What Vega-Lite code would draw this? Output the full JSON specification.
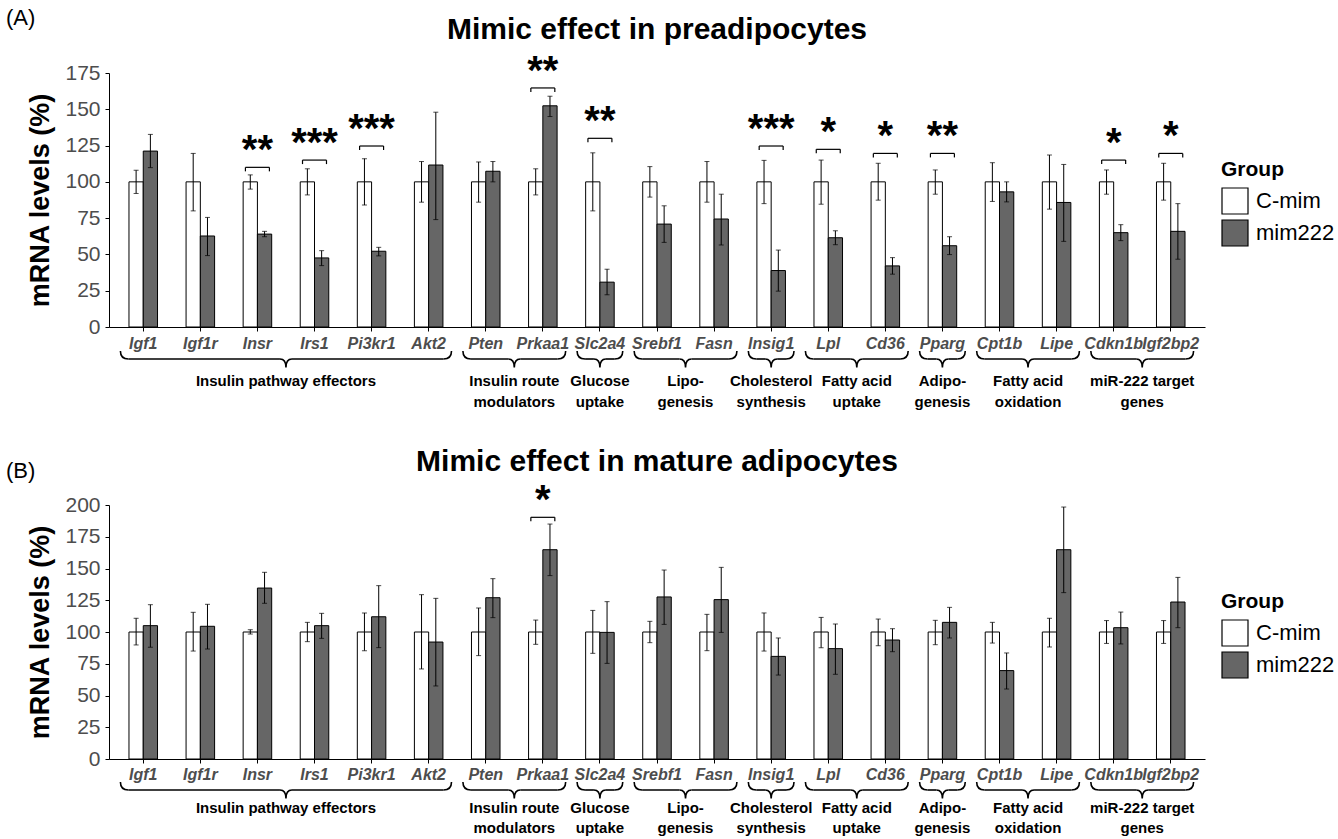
{
"$schema": "https://vega.github.io/schema/vega-lite/v6.json",
"background": "white",
"padding": {"left": 5, "top": 6, "right": 0, "bottom": 0},
"config": {"view": {"stroke": null}, "font": "Liberation Sans", "axis": {"labelFont": "Liberation Sans", "titleFont": "Liberation Sans", "grid": false}, "legend": {"labelFont": "Liberation Sans", "titleFont": "Liberation Sans"}, "title": {"font": "Liberation Sans", "color": "black"}},
"datasets": {
"barsA": [
{"gene":"Igf1","group":"C-mim","value":100,"lo":92,"hi":108},{"gene":"Igf1","group":"mim222","value":121.2,"lo":109.8,"hi":132.7},
{"gene":"Igf1r","group":"C-mim","value":100,"lo":80,"hi":119.6},{"gene":"Igf1r","group":"mim222","value":62.7,"lo":49.2,"hi":75.5},
{"gene":"Insr","group":"C-mim","value":100,"lo":95,"hi":104.8},{"gene":"Insr","group":"mim222","value":64,"lo":62.2,"hi":65.9},
{"gene":"Irs1","group":"C-mim","value":100,"lo":91,"hi":109},{"gene":"Irs1","group":"mim222","value":47.6,"lo":42.3,"hi":52.6},
{"gene":"Pi3kr1","group":"C-mim","value":100,"lo":84,"hi":116},{"gene":"Pi3kr1","group":"mim222","value":52.2,"lo":49,"hi":54.9},
{"gene":"Akt2","group":"C-mim","value":100,"lo":86,"hi":114},{"gene":"Akt2","group":"mim222","value":111.6,"lo":74,"hi":148},
{"gene":"Pten","group":"C-mim","value":100,"lo":86,"hi":113.7},{"gene":"Pten","group":"mim222","value":107.3,"lo":100,"hi":114},
{"gene":"Prkaa1","group":"C-mim","value":100,"lo":91,"hi":109},{"gene":"Prkaa1","group":"mim222","value":152.4,"lo":145,"hi":159},
{"gene":"Slc2a4","group":"C-mim","value":100,"lo":80,"hi":120},{"gene":"Slc2a4","group":"mim222","value":30.9,"lo":22.2,"hi":39.8},
{"gene":"Srebf1","group":"C-mim","value":100,"lo":89.5,"hi":110.5},{"gene":"Srebf1","group":"mim222","value":70.9,"lo":58.3,"hi":83.5},
{"gene":"Fasn","group":"C-mim","value":100,"lo":86,"hi":114},{"gene":"Fasn","group":"mim222","value":74.4,"lo":56.5,"hi":91.5},
{"gene":"Insig1","group":"C-mim","value":100,"lo":85,"hi":114.8},{"gene":"Insig1","group":"mim222","value":38.9,"lo":24.7,"hi":53},
{"gene":"Lpl","group":"C-mim","value":100,"lo":84.6,"hi":115},{"gene":"Lpl","group":"mim222","value":61.5,"lo":56.7,"hi":66.3},
{"gene":"Cd36","group":"C-mim","value":100,"lo":87.4,"hi":112.8},{"gene":"Cd36","group":"mim222","value":42.1,"lo":36.4,"hi":47.8},
{"gene":"Pparg","group":"C-mim","value":100,"lo":91.5,"hi":108.2},{"gene":"Pparg","group":"mim222","value":56,"lo":49.9,"hi":62.2},
{"gene":"Cpt1b","group":"C-mim","value":100,"lo":86.5,"hi":113.2},{"gene":"Cpt1b","group":"mim222","value":93.1,"lo":86.2,"hi":100},
{"gene":"Lipe","group":"C-mim","value":100,"lo":81.2,"hi":118.5},{"gene":"Lipe","group":"mim222","value":85.8,"lo":59,"hi":112},
{"gene":"Cdkn1b","group":"C-mim","value":100,"lo":91.5,"hi":108.2},{"gene":"Cdkn1b","group":"mim222","value":65,"lo":59.5,"hi":70.5},
{"gene":"Igf2bp2","group":"C-mim","value":100,"lo":87.4,"hi":112.8},{"gene":"Igf2bp2","group":"mim222","value":65.9,"lo":46.7,"hi":85}
],
"barsB": [
{"gene":"Igf1","group":"C-mim","value":100,"lo":89.8,"hi":110.8},{"gene":"Igf1","group":"mim222","value":105,"lo":88,"hi":121.5},
{"gene":"Igf1r","group":"C-mim","value":100,"lo":85,"hi":115.5},{"gene":"Igf1r","group":"mim222","value":104.5,"lo":86.6,"hi":121.8},
{"gene":"Insr","group":"C-mim","value":100,"lo":98.4,"hi":101.8},{"gene":"Insr","group":"mim222","value":134.6,"lo":122.6,"hi":147},
{"gene":"Irs1","group":"C-mim","value":100,"lo":92.4,"hi":107.6},{"gene":"Irs1","group":"mim222","value":105,"lo":95,"hi":114.7},
{"gene":"Pi3kr1","group":"C-mim","value":100,"lo":85.3,"hi":115},{"gene":"Pi3kr1","group":"mim222","value":112,"lo":87.7,"hi":136.5},
{"gene":"Akt2","group":"C-mim","value":100,"lo":70.9,"hi":129.4},{"gene":"Akt2","group":"mim222","value":92.1,"lo":57.5,"hi":126.5},
{"gene":"Pten","group":"C-mim","value":100,"lo":81.4,"hi":118.9},{"gene":"Pten","group":"mim222","value":127,"lo":111.3,"hi":142},
{"gene":"Prkaa1","group":"C-mim","value":100,"lo":90.3,"hi":109.4},{"gene":"Prkaa1","group":"mim222","value":164.8,"lo":144.4,"hi":185},
{"gene":"Slc2a4","group":"C-mim","value":100,"lo":83.2,"hi":117},{"gene":"Slc2a4","group":"mim222","value":99.7,"lo":75.3,"hi":123.9},
{"gene":"Srebf1","group":"C-mim","value":100,"lo":91.6,"hi":108.4},{"gene":"Srebf1","group":"mim222","value":127.6,"lo":106,"hi":148.8},
{"gene":"Fasn","group":"C-mim","value":100,"lo":85.3,"hi":113.9},{"gene":"Fasn","group":"mim222","value":125.5,"lo":99.7,"hi":150.9},
{"gene":"Insig1","group":"C-mim","value":100,"lo":85,"hi":115},{"gene":"Insig1","group":"mim222","value":80.8,"lo":66.1,"hi":95.3},
{"gene":"Lpl","group":"C-mim","value":100,"lo":87.6,"hi":111.5},{"gene":"Lpl","group":"mim222","value":86.9,"lo":66.7,"hi":106.3},
{"gene":"Cd36","group":"C-mim","value":100,"lo":89.2,"hi":110.2},{"gene":"Cd36","group":"mim222","value":93.7,"lo":84.5,"hi":102.6},
{"gene":"Pparg","group":"C-mim","value":100,"lo":90,"hi":109.2},{"gene":"Pparg","group":"mim222","value":107.6,"lo":95.3,"hi":119.4},
{"gene":"Cpt1b","group":"C-mim","value":100,"lo":91.3,"hi":107.6},{"gene":"Cpt1b","group":"mim222","value":69.6,"lo":55.1,"hi":83.5},
{"gene":"Lipe","group":"C-mim","value":100,"lo":88.2,"hi":110.8},{"gene":"Lipe","group":"mim222","value":164.8,"lo":131,"hi":198.4},
{"gene":"Cdkn1b","group":"C-mim","value":100,"lo":91,"hi":109},{"gene":"Cdkn1b","group":"mim222","value":103.4,"lo":90.6,"hi":115.7},
{"gene":"Igf2bp2","group":"C-mim","value":100,"lo":91,"hi":109},{"gene":"Igf2bp2","group":"mim222","value":123.6,"lo":103.4,"hi":143}
],
"sigA": [
{"gene":"Insr","bracket":110,"stars":"**"},{"gene":"Irs1","bracket":115,"stars":"***"},{"gene":"Pi3kr1","bracket":124.7,"stars":"***"},
{"gene":"Prkaa1","bracket":164.7,"stars":"**"},{"gene":"Slc2a4","bracket":130,"stars":"**"},{"gene":"Insig1","bracket":124.7,"stars":"***"},
{"gene":"Lpl","bracket":122.4,"stars":"*"},{"gene":"Cd36","bracket":119.6,"stars":"*"},{"gene":"Pparg","bracket":119.6,"stars":"**"},
{"gene":"Cdkn1b","bracket":115,"stars":"*"},{"gene":"Igf2bp2","bracket":119.6,"stars":"*"}
],
"sigB": [
{"gene":"Prkaa1","bracket":190.3,"stars":"*"}
],
"groups": [
{"label":"Insulin pathway effectors","first":"Igf1","last":"Akt2","anchor":"Insr","even":true},
{"label":"Insulin route\nmodulators","first":"Pten","last":"Prkaa1","anchor":"Pten","even":true},
{"label":"Glucose\nuptake","first":"Slc2a4","last":"Slc2a4","anchor":"Slc2a4","even":false},
{"label":"Lipo-\ngenesis","first":"Srebf1","last":"Fasn","anchor":"Srebf1","even":true},
{"label":"Cholesterol\nsynthesis","first":"Insig1","last":"Insig1","anchor":"Insig1","even":false},
{"label":"Fatty acid\nuptake","first":"Lpl","last":"Cd36","anchor":"Lpl","even":true},
{"label":"Adipo-\ngenesis","first":"Pparg","last":"Pparg","anchor":"Pparg","even":false},
{"label":"Fatty acid\noxidation","first":"Cpt1b","last":"Lipe","anchor":"Cpt1b","even":true},
{"label":"miR-222 target\ngenes","first":"Cdkn1b","last":"Igf2bp2","anchor":"Cdkn1b","even":true}
]
},
"spacing": 37,
"resolve": {"scale": {"x": "independent", "y": "independent", "fill": "independent"}},
"vconcat": [
{
"title": {"text": "(A)", "anchor": "start", "frame": "bounds", "fontSize": 22, "fontWeight": "normal", "offset": -15, "dx": -21},
"resolve": {"scale": {"fill": "independent"}, "legend": {"fill": "independent"}},
"vconcat": [{
"width": 1096, "height": 254,
"title": {"text": "Mimic effect in preadipocytes", "fontSize": 30, "fontWeight": "bold", "anchor": "middle", "frame": "group", "offset": 7},
"layer": [
{"data": {"name": "barsA"}, "mark": {"type": "bar", "stroke": "black", "strokeWidth": 1},
 "encoding": {
  "x": {"field": "gene", "type": "nominal", "title": null, "scale": {"domain": ["Igf1","Igf1r","Insr","Irs1","Pi3kr1","Akt2","Pten","Prkaa1","Slc2a4","Srebf1","Fasn","Insig1","Lpl","Cd36","Pparg","Cpt1b","Lipe","Cdkn1b","Igf2bp2"], "paddingInner": 0.5, "paddingOuter": 0.35},
        "axis": {"labelFontSize": 16, "labelFontStyle": "italic", "labelFontWeight": "bold", "labelColor": "#4d4d4d", "labelAngle": 0, "labelOverlap": false, "tickSize": 4, "tickColor": "black", "domainColor": "black", "labelPadding": 4, "title": null}},
  "xOffset": {"field": "group", "type": "nominal", "scale": {"paddingInner": 0, "paddingOuter": 0}},
  "y": {"field": "value", "type": "quantitative", "title": "mRNA levels (%)", "scale": {"domain": [0, 175], "nice": false},
        "axis": {"values": [0,25,50,75,100,125,150,175], "tickCount": 20, "labelOverlap": false, "labelFontSize": 21, "labelColor": "#4d4d4d", "tickColor": "black", "domainColor": "black", "tickSize": 4, "labelPadding": 5, "titleFontSize": 27, "titleFontWeight": "bold", "titleColor": "black", "titlePadding": 10}},
  "fill": {"field": "group", "type": "nominal", "scale": {"domain": ["C-mim","mim222"], "range": ["#ffffff","#666666"]},
        "legend": {"title": "Group", "orient": "none", "legendX": 1112, "legendY": 86, "symbolType": "square", "symbolSize": 676, "symbolStrokeColor": "black", "symbolStrokeWidth": 1.2, "labelFontSize": 22, "labelColor": "black", "titleFontSize": 21, "titleFontWeight": "bold", "titleColor": "black", "rowPadding": 0, "titlePadding": 7, "labelOffset": 7}}
 }},
{"data": {"name": "barsA"}, "mark": {"type": "rule", "color": "black", "strokeWidth": 1},
 "encoding": {"x": {"field": "gene", "type": "nominal"}, "xOffset": {"field": "group", "type": "nominal"}, "y": {"field": "lo", "type": "quantitative"}, "y2": {"field": "hi"}}},
{"data": {"name": "barsA"}, "mark": {"type": "tick", "orient": "horizontal", "color": "black", "size": 5, "thickness": 1},
 "encoding": {"x": {"field": "gene", "type": "nominal"}, "xOffset": {"field": "group", "type": "nominal"}, "y": {"field": "lo", "type": "quantitative"}}},
{"data": {"name": "barsA"}, "mark": {"type": "tick", "orient": "horizontal", "color": "black", "size": 5, "thickness": 1},
 "encoding": {"x": {"field": "gene", "type": "nominal"}, "xOffset": {"field": "group", "type": "nominal"}, "y": {"field": "hi", "type": "quantitative"}}},
{"data": {"name": "sigA"}, "mark": {"type": "rule", "color": "black", "strokeWidth": 1.2},
 "encoding": {"x": {"field": "gene", "type": "nominal", "bandPosition": 0.08}, "x2": {"field": "gene", "bandPosition": 0.92}, "y": {"field": "bracket", "type": "quantitative"}}},
{"data": {"name": "sigA"}, "mark": {"type": "rule", "color": "black", "strokeWidth": 1.2, "y2Offset": 4},
 "encoding": {"x": {"field": "gene", "type": "nominal", "bandPosition": 0.08}, "y": {"field": "bracket", "type": "quantitative"}, "y2": {"field": "bracket"}}},
{"data": {"name": "sigA"}, "mark": {"type": "rule", "color": "black", "strokeWidth": 1.2, "y2Offset": 4},
 "encoding": {"x": {"field": "gene", "type": "nominal", "bandPosition": 0.92}, "y": {"field": "bracket", "type": "quantitative"}, "y2": {"field": "bracket"}}},
{"data": {"name": "sigA"}, "mark": {"type": "text", "fontSize": 40, "fontWeight": "bold", "baseline": "alphabetic", "dy": -4, "color": "black"},
 "encoding": {"x": {"field": "gene", "type": "nominal"}, "y": {"field": "bracket", "type": "quantitative"}, "text": {"field": "stars"}}},
{"data": {"name": "groups"}, "mark": {"type": "point", "shape": "M1,1Q-1,1,-1,-1", "size": 64, "filled": false, "stroke": "black", "strokeWidth": 1.6, "opacity": 1, "xOffset": 4, "yOffset": 28},
 "encoding": {"x": {"field": "first", "type": "nominal", "bandPosition": -0.3}, "y": {"datum": 0}}},
{"data": {"name": "groups"}, "mark": {"type": "point", "shape": "M-1,1Q1,1,1,-1", "size": 64, "filled": false, "stroke": "black", "strokeWidth": 1.6, "opacity": 1, "xOffset": -4, "yOffset": 28},
 "encoding": {"x": {"field": "last", "type": "nominal", "bandPosition": 1.3}, "y": {"datum": 0}}},
{"data": {"name": "groups"}, "transform": [{"filter": "datum.even"}], "mark": {"type": "point", "shape": "M-1,-0.7Q0,-0.7,0,0.7Q0,-0.7,1,-0.7", "size": 144, "filled": false, "stroke": "black", "strokeWidth": 1.6, "opacity": 1, "yOffset": 36.2},
 "encoding": {"x": {"field": "anchor", "type": "nominal", "bandPosition": 1.5}, "y": {"datum": 0}}},
{"data": {"name": "groups"}, "transform": [{"filter": "!datum.even"}], "mark": {"type": "point", "shape": "M-1,-0.7Q0,-0.7,0,0.7Q0,-0.7,1,-0.7", "size": 144, "filled": false, "stroke": "black", "strokeWidth": 1.6, "opacity": 1, "yOffset": 36.2},
 "encoding": {"x": {"field": "anchor", "type": "nominal", "bandPosition": 0.5}, "y": {"datum": 0}}},
{"data": {"name": "groups"}, "transform": [{"filter": "datum.even"}], "mark": {"type": "rule", "color": "black", "strokeWidth": 1.6, "xOffset": 8, "x2Offset": -6, "yOffset": 32},
 "encoding": {"x": {"field": "first", "type": "nominal", "bandPosition": -0.3}, "x2": {"field": "anchor", "bandPosition": 1.5}, "y": {"datum": 0}}},
{"data": {"name": "groups"}, "transform": [{"filter": "datum.even"}], "mark": {"type": "rule", "color": "black", "strokeWidth": 1.6, "xOffset": 6, "x2Offset": -8, "yOffset": 32},
 "encoding": {"x": {"field": "anchor", "type": "nominal", "bandPosition": 1.5}, "x2": {"field": "last", "bandPosition": 1.3}, "y": {"datum": 0}}},
{"data": {"name": "groups"}, "transform": [{"filter": "!datum.even"}], "mark": {"type": "rule", "color": "black", "strokeWidth": 1.6, "xOffset": 8, "x2Offset": -6, "yOffset": 32},
 "encoding": {"x": {"field": "first", "type": "nominal", "bandPosition": -0.3}, "x2": {"field": "anchor", "bandPosition": 0.5}, "y": {"datum": 0}}},
{"data": {"name": "groups"}, "transform": [{"filter": "!datum.even"}], "mark": {"type": "rule", "color": "black", "strokeWidth": 1.6, "xOffset": 6, "x2Offset": -8, "yOffset": 32},
 "encoding": {"x": {"field": "anchor", "type": "nominal", "bandPosition": 0.5}, "x2": {"field": "last", "bandPosition": 1.3}, "y": {"datum": 0}}},
{"data": {"name": "groups"}, "transform": [{"filter": "datum.even"}], "mark": {"type": "text", "fontSize": 15, "fontWeight": "bold", "lineBreak": "\n", "lineHeight": 21, "baseline": "top", "align": "center", "yOffset": 47, "color": "black"},
 "encoding": {"x": {"field": "anchor", "type": "nominal", "bandPosition": 1.5}, "y": {"datum": 0}, "text": {"field": "label"}}},
{"data": {"name": "groups"}, "transform": [{"filter": "!datum.even"}], "mark": {"type": "text", "fontSize": 15, "fontWeight": "bold", "lineBreak": "\n", "lineHeight": 21, "baseline": "top", "align": "center", "yOffset": 47, "color": "black"},
 "encoding": {"x": {"field": "anchor", "type": "nominal", "bandPosition": 0.5}, "y": {"datum": 0}, "text": {"field": "label"}}}
]
}]
},
{
"title": {"text": "(B)", "anchor": "start", "frame": "bounds", "fontSize": 22, "fontWeight": "normal", "offset": -36, "dx": -21},
"resolve": {"scale": {"fill": "independent"}, "legend": {"fill": "independent"}},
"vconcat": [{
"width": 1096, "height": 254,
"title": {"text": "Mimic effect in mature adipocytes", "fontSize": 30, "fontWeight": "bold", "anchor": "middle", "frame": "group", "offset": 4},
"layer": [
{"data": {"name": "barsB"}, "mark": {"type": "bar", "stroke": "black", "strokeWidth": 1},
 "encoding": {
  "x": {"field": "gene", "type": "nominal", "title": null, "scale": {"domain": ["Igf1","Igf1r","Insr","Irs1","Pi3kr1","Akt2","Pten","Prkaa1","Slc2a4","Srebf1","Fasn","Insig1","Lpl","Cd36","Pparg","Cpt1b","Lipe","Cdkn1b","Igf2bp2"], "paddingInner": 0.5, "paddingOuter": 0.35},
        "axis": {"labelFontSize": 16, "labelFontStyle": "italic", "labelFontWeight": "bold", "labelColor": "#4d4d4d", "labelAngle": 0, "labelOverlap": false, "tickSize": 4, "tickColor": "black", "domainColor": "black", "labelPadding": 3, "title": null}},
  "xOffset": {"field": "group", "type": "nominal", "scale": {"paddingInner": 0, "paddingOuter": 0}},
  "y": {"field": "value", "type": "quantitative", "title": "mRNA levels (%)", "scale": {"domain": [0, 200], "nice": false},
        "axis": {"values": [0,25,50,75,100,125,150,175,200], "tickCount": 20, "labelOverlap": false, "labelFontSize": 21, "labelColor": "#4d4d4d", "tickColor": "black", "domainColor": "black", "tickSize": 4, "labelPadding": 5, "titleFontSize": 27, "titleFontWeight": "bold", "titleColor": "black", "titlePadding": 10}},
  "fill": {"field": "group", "type": "nominal", "scale": {"domain": ["C-mim","mim222"], "range": ["#ffffff","#666666"]},
        "legend": {"title": "Group", "orient": "none", "legendX": 1112, "legendY": 86, "symbolType": "square", "symbolSize": 676, "symbolStrokeColor": "black", "symbolStrokeWidth": 1.2, "labelFontSize": 22, "labelColor": "black", "titleFontSize": 21, "titleFontWeight": "bold", "titleColor": "black", "rowPadding": 0, "titlePadding": 7, "labelOffset": 7}}
 }},
{"data": {"name": "barsB"}, "mark": {"type": "rule", "color": "black", "strokeWidth": 1},
 "encoding": {"x": {"field": "gene", "type": "nominal"}, "xOffset": {"field": "group", "type": "nominal"}, "y": {"field": "lo", "type": "quantitative"}, "y2": {"field": "hi"}}},
{"data": {"name": "barsB"}, "mark": {"type": "tick", "orient": "horizontal", "color": "black", "size": 5, "thickness": 1},
 "encoding": {"x": {"field": "gene", "type": "nominal"}, "xOffset": {"field": "group", "type": "nominal"}, "y": {"field": "lo", "type": "quantitative"}}},
{"data": {"name": "barsB"}, "mark": {"type": "tick", "orient": "horizontal", "color": "black", "size": 5, "thickness": 1},
 "encoding": {"x": {"field": "gene", "type": "nominal"}, "xOffset": {"field": "group", "type": "nominal"}, "y": {"field": "hi", "type": "quantitative"}}},
{"data": {"name": "sigB"}, "mark": {"type": "rule", "color": "black", "strokeWidth": 1.2},
 "encoding": {"x": {"field": "gene", "type": "nominal", "bandPosition": 0.08}, "x2": {"field": "gene", "bandPosition": 0.92}, "y": {"field": "bracket", "type": "quantitative"}}},
{"data": {"name": "sigB"}, "mark": {"type": "rule", "color": "black", "strokeWidth": 1.2, "y2Offset": 4},
 "encoding": {"x": {"field": "gene", "type": "nominal", "bandPosition": 0.08}, "y": {"field": "bracket", "type": "quantitative"}, "y2": {"field": "bracket"}}},
{"data": {"name": "sigB"}, "mark": {"type": "rule", "color": "black", "strokeWidth": 1.2, "y2Offset": 4},
 "encoding": {"x": {"field": "gene", "type": "nominal", "bandPosition": 0.92}, "y": {"field": "bracket", "type": "quantitative"}, "y2": {"field": "bracket"}}},
{"data": {"name": "sigB"}, "mark": {"type": "text", "fontSize": 40, "fontWeight": "bold", "baseline": "alphabetic", "dy": -4, "color": "black"},
 "encoding": {"x": {"field": "gene", "type": "nominal"}, "y": {"field": "bracket", "type": "quantitative"}, "text": {"field": "stars"}}},
{"data": {"name": "groups"}, "mark": {"type": "point", "shape": "M1,1Q-1,1,-1,-1", "size": 64, "filled": false, "stroke": "black", "strokeWidth": 1.6, "opacity": 1, "xOffset": 4, "yOffset": 27},
 "encoding": {"x": {"field": "first", "type": "nominal", "bandPosition": -0.3}, "y": {"datum": 0}}},
{"data": {"name": "groups"}, "mark": {"type": "point", "shape": "M-1,1Q1,1,1,-1", "size": 64, "filled": false, "stroke": "black", "strokeWidth": 1.6, "opacity": 1, "xOffset": -4, "yOffset": 27},
 "encoding": {"x": {"field": "last", "type": "nominal", "bandPosition": 1.3}, "y": {"datum": 0}}},
{"data": {"name": "groups"}, "transform": [{"filter": "datum.even"}], "mark": {"type": "point", "shape": "M-1,-0.7Q0,-0.7,0,0.7Q0,-0.7,1,-0.7", "size": 144, "filled": false, "stroke": "black", "strokeWidth": 1.6, "opacity": 1, "yOffset": 35.2},
 "encoding": {"x": {"field": "anchor", "type": "nominal", "bandPosition": 1.5}, "y": {"datum": 0}}},
{"data": {"name": "groups"}, "transform": [{"filter": "!datum.even"}], "mark": {"type": "point", "shape": "M-1,-0.7Q0,-0.7,0,0.7Q0,-0.7,1,-0.7", "size": 144, "filled": false, "stroke": "black", "strokeWidth": 1.6, "opacity": 1, "yOffset": 35.2},
 "encoding": {"x": {"field": "anchor", "type": "nominal", "bandPosition": 0.5}, "y": {"datum": 0}}},
{"data": {"name": "groups"}, "transform": [{"filter": "datum.even"}], "mark": {"type": "rule", "color": "black", "strokeWidth": 1.6, "xOffset": 8, "x2Offset": -6, "yOffset": 31},
 "encoding": {"x": {"field": "first", "type": "nominal", "bandPosition": -0.3}, "x2": {"field": "anchor", "bandPosition": 1.5}, "y": {"datum": 0}}},
{"data": {"name": "groups"}, "transform": [{"filter": "datum.even"}], "mark": {"type": "rule", "color": "black", "strokeWidth": 1.6, "xOffset": 6, "x2Offset": -8, "yOffset": 31},
 "encoding": {"x": {"field": "anchor", "type": "nominal", "bandPosition": 1.5}, "x2": {"field": "last", "bandPosition": 1.3}, "y": {"datum": 0}}},
{"data": {"name": "groups"}, "transform": [{"filter": "!datum.even"}], "mark": {"type": "rule", "color": "black", "strokeWidth": 1.6, "xOffset": 8, "x2Offset": -6, "yOffset": 31},
 "encoding": {"x": {"field": "first", "type": "nominal", "bandPosition": -0.3}, "x2": {"field": "anchor", "bandPosition": 0.5}, "y": {"datum": 0}}},
{"data": {"name": "groups"}, "transform": [{"filter": "!datum.even"}], "mark": {"type": "rule", "color": "black", "strokeWidth": 1.6, "xOffset": 6, "x2Offset": -8, "yOffset": 31},
 "encoding": {"x": {"field": "anchor", "type": "nominal", "bandPosition": 0.5}, "x2": {"field": "last", "bandPosition": 1.3}, "y": {"datum": 0}}},
{"data": {"name": "groups"}, "transform": [{"filter": "datum.even"}], "mark": {"type": "text", "fontSize": 15, "fontWeight": "bold", "lineBreak": "\n", "lineHeight": 20, "baseline": "top", "align": "center", "yOffset": 42, "color": "black"},
 "encoding": {"x": {"field": "anchor", "type": "nominal", "bandPosition": 1.5}, "y": {"datum": 0}, "text": {"field": "label"}}},
{"data": {"name": "groups"}, "transform": [{"filter": "!datum.even"}], "mark": {"type": "text", "fontSize": 15, "fontWeight": "bold", "lineBreak": "\n", "lineHeight": 20, "baseline": "top", "align": "center", "yOffset": 42, "color": "black"},
 "encoding": {"x": {"field": "anchor", "type": "nominal", "bandPosition": 0.5}, "y": {"datum": 0}, "text": {"field": "label"}}}
]
}]
}
]
}
